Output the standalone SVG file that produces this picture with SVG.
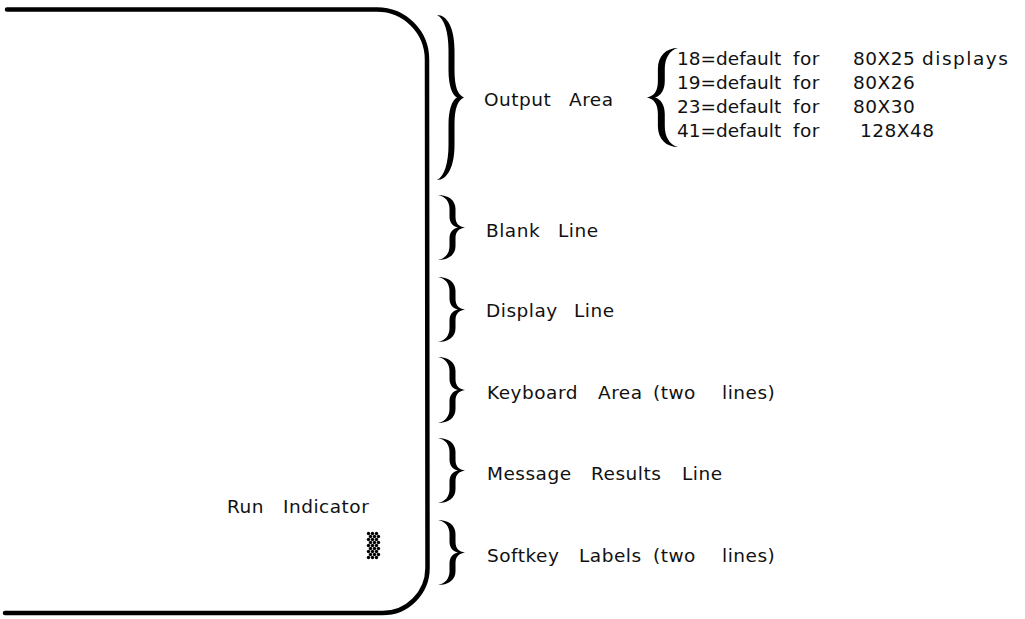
<svg xmlns="http://www.w3.org/2000/svg" xmlns:xlink="http://www.w3.org/1999/xlink" width="1025" height="619" viewBox="0 0 1025 619">
<style>
.t{font-family:"DejaVu Sans","Liberation Sans",Arial,sans-serif;font-size:18.5px;letter-spacing:0.5px;fill:#111}
.d{letter-spacing:0}
.frame{fill:none;stroke:#000;stroke-width:4.5;stroke-linecap:round}
.br{fill:#000}
</style>
<defs>
<path id="brace" d="M0,0 C10,0 17.5,5 17.5,14 L17.5,22 C17.5,29 21,32 27,33 C21,34 17.5,37 17.5,44 L17.5,52 C17.5,61 10,66 0,66 C7.5,64.5 11.5,59 11.5,52 L11.5,44 C11.5,38 15,34 20,33 C15,32 11.5,28 11.5,22 L11.5,14 C11.5,7 7.5,1.5 0,0 Z"/>
</defs>
<rect width="1025" height="619" fill="#fff"/>
<g id="screen">
<path class="frame" d="M7,9.5 L377,9.5 A50,50 0 0 1 427,59.5 L427.5,568 A45,45 0 0 1 382.5,613 L5,613"/>
</g>
<g id="connectors" class="br">
<use xlink:href="#brace" transform="translate(437,15) scale(1,2.5)"/>
<use xlink:href="#brace" transform="translate(438,195) scale(1,0.985)"/>
<use xlink:href="#brace" transform="translate(438,277) scale(1,0.985)"/>
<use xlink:href="#brace" transform="translate(438,357) scale(1,1)"/>
<use xlink:href="#brace" transform="translate(438,438) scale(1,0.985)"/>
<use xlink:href="#brace" transform="translate(438,520) scale(1,0.985)"/>
<use xlink:href="#brace" transform="translate(678,48) scale(-1.15,1.5)"/>
</g>
<g id="run-indicator">
<text class="t" y="513"><tspan x="227">Run</tspan><tspan x="283">Indicator</tspan></text>
<g fill="#000">
<circle cx="368.5" cy="533.5" r="1.7"/><circle cx="372.5" cy="533.5" r="1.7"/><circle cx="376.5" cy="533.5" r="1.7"/>
<circle cx="370.5" cy="536.5" r="1.7"/><circle cx="374.5" cy="536.5" r="1.7"/><circle cx="378.5" cy="536.5" r="1.7"/>
<circle cx="368.5" cy="539.5" r="1.7"/><circle cx="372.5" cy="539.5" r="1.7"/><circle cx="376.5" cy="539.5" r="1.7"/>
<circle cx="370.5" cy="542.5" r="1.7"/><circle cx="374.5" cy="542.5" r="1.7"/><circle cx="378.5" cy="542.5" r="1.7"/>
<circle cx="368.5" cy="545.5" r="1.7"/><circle cx="372.5" cy="545.5" r="1.7"/><circle cx="376.5" cy="545.5" r="1.7"/>
<circle cx="370.5" cy="548.5" r="1.7"/><circle cx="374.5" cy="548.5" r="1.7"/><circle cx="378.5" cy="548.5" r="1.7"/>
<circle cx="368.5" cy="551.5" r="1.7"/><circle cx="372.5" cy="551.5" r="1.7"/><circle cx="376.5" cy="551.5" r="1.7"/>
<circle cx="370.5" cy="554.5" r="1.7"/><circle cx="374.5" cy="554.5" r="1.7"/><circle cx="378.5" cy="554.5" r="1.7"/>
<circle cx="368.5" cy="557.5" r="1.7"/><circle cx="372.5" cy="557.5" r="1.7"/><circle cx="376.5" cy="557.5" r="1.7"/>
</g>
</g>
<g id="output-area">
<text class="t" y="106"><tspan x="484">Output</tspan><tspan x="569">Area</tspan></text>
</g>
<g id="output-sizes">
<text class="t" y="65"><tspan class="d" x="677">18=default</tspan><tspan x="793">for</tspan><tspan x="853">80X25</tspan><tspan x="922" style="letter-spacing:1.5px">displays</tspan></text>
<text class="t" y="89"><tspan class="d" x="677">19=default</tspan><tspan x="793">for</tspan><tspan x="853">80X26</tspan></text>
<text class="t" y="113"><tspan class="d" x="677">23=default</tspan><tspan x="793">for</tspan><tspan x="853">80X30</tspan></text>
<text class="t" y="137"><tspan class="d" x="677">41=default</tspan><tspan x="793">for</tspan><tspan x="860">128X48</tspan></text>
</g>
<g id="blank-line">
<text class="t" y="237"><tspan x="486">Blank</tspan><tspan x="558">Line</tspan></text>
</g>
<g id="display-line">
<text class="t" y="317"><tspan x="486">Display</tspan><tspan x="574">Line</tspan></text>
</g>
<g id="keyboard-area">
<text class="t" y="399"><tspan x="487">Keyboard</tspan><tspan x="598">Area</tspan><tspan x="653">(two</tspan><tspan x="722">lines)</tspan></text>
</g>
<g id="message-results">
<text class="t" y="480"><tspan x="487">Message</tspan><tspan x="591">Results</tspan><tspan x="682">Line</tspan></text>
</g>
<g id="softkey-labels">
<text class="t" y="562"><tspan x="487">Softkey</tspan><tspan x="579">Labels</tspan><tspan x="653">(two</tspan><tspan x="722">lines)</tspan></text>
</g>
</svg>
